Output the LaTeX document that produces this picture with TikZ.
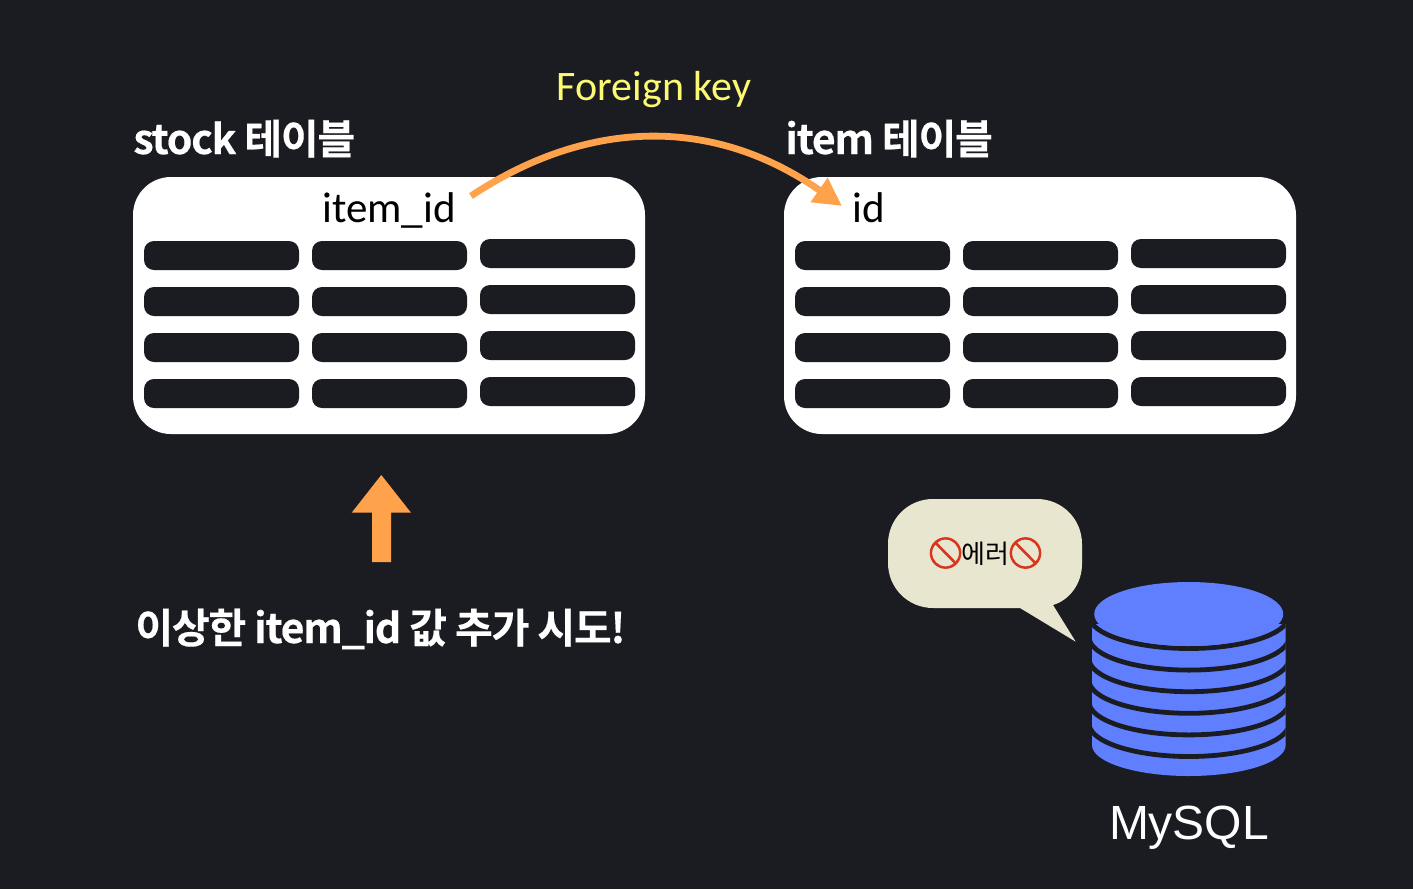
\documentclass[tikz,border=0pt]{standalone}
\usepackage{fontspec}
\usetikzlibrary{arrows.meta}
\setmainfont{Liberation Sans}
\newfontfamily\krbold[LetterSpace=-3,FakeBold=0.4]{Noto Sans CJK KR Bold}
\newfontfamily\krreg{Noto Sans CJK KR}
\newfontfamily\handfont{Carlito}
\newfontfamily\emojifont[FakeBold=4]{Noto Emoji}
\definecolor{bgdark}{HTML}{1B1C22}
\definecolor{orangeA}{HTML}{FFA24C}
\definecolor{yellowA}{HTML}{FBFA72}
\definecolor{blueA}{HTML}{5F7FFF}
\definecolor{bubbleA}{HTML}{E8E6CF}
\definecolor{banred}{HTML}{D9361F}
\tikzset{
  tablebox/.style={fill=white,rounded corners=19pt,minimum width=256pt,minimum height=128.5pt,inner sep=0pt},
  cellbar/.style={fill=bgdark,rounded corners=5pt,minimum width=77.5pt,minimum height=14.5pt,inner sep=0pt},
  heading/.style={text=white,anchor=base west,inner sep=0pt,font=\krbold\fontsize{20.5pt}{24pt}\selectfont},
  handtext/.style={text=black,inner sep=0pt,font=\handfont\fontsize{21.5pt}{26pt}\selectfont},
}
\begin{document}
\begin{tikzpicture}[x=0.5pt,y=-0.5pt]
\useasboundingbox (0,0) rectangle (1413,889);
\fill[bgdark] (0,0) rectangle (1413,889);
% headings
\node[heading] (stockhead) at (133,154) {stock 테이블};
\node[heading] (itemhead) at (785,154) {item 테이블};
% tables
\node[tablebox] (stocktable) at (389,305.5) {};
\node[tablebox] (itemtable) at (1040,305.5) {};
\foreach \ox/\tn in {0/s,651/i}{
  \foreach \r/\ry in {1/255.5,2/301.5,3/347.5,4/393.5}{
    \node[cellbar] (\tn a\r) at (221.5+\ox,\ry) {};
    \node[cellbar] (\tn b\r) at (389.5+\ox,\ry) {};
    \node[cellbar] (\tn c\r) at (557.5+\ox,\ry-2) {};
  }
}
\node[handtext] (itemid) at (389,210) {item\_id};
\node[handtext] (idlabel) at (869,208) {id};
% foreign key
\node[inner sep=0pt,text=yellowA,font=\handfont\fontsize{21pt}{26pt}\selectfont] (fk) at (654,90) {Foreign key};
\coordinate (fkstart) at (471,196);
\coordinate (fkend) at (842,206);
\draw[orangeA,line width=3.4pt,-{Triangle[length=14pt,width=14pt]}] (fkstart) .. controls (590,117) and (715,117) .. (fkend);
% up arrow
\fill[orangeA] (381.3,475) -- (411,512.7) -- (391,512.7) -- (391,562) -- (372,562) -- (372,512.7) -- (351.7,512.7) -- cycle;
\node[heading] (trylabel) at (135,643) {이상한 item\_id 값 추가 시도!};
% bubble
\fill[bubbleA] (933,499) -- (1037,499) .. controls (1062,499) and (1082,519) .. (1082,544)
  -- (1082,564) .. controls (1082,583) and (1070,600) .. (1053,605)
  -- (1075.7,641.7) -- (1020,608) -- (933,608)
  .. controls (908,608) and (888,588) .. (888,563) -- (888,544)
  .. controls (888,519) and (908,499) .. (933,499) -- cycle;
\node[inner sep=0pt,text=black,font=\krreg\fontsize{13pt}{18pt}\selectfont] (errlabel) at (985.5,553)
  {{\emojifont\color{banred}\fontsize{15pt}{18pt}\selectfont 🚫}\kern-1.5pt 에러\kern-1.5pt{\emojifont\color{banred}\fontsize{15pt}{18pt}\selectfont 🚫}};
% database
\begin{scope}
  \clip (1092,624) -- (1285.7,624) -- (1285.7,745) arc[start angle=0,end angle=180,x radius=96.85,y radius=31] -- cycle;
  \fill[blueA] (1000,600) rectangle (1300,800);
  \foreach \k in {0,...,5}{
    \draw[bgdark,line width=2.4pt] (1289,615.5+21.6*\k) arc[start angle=0,end angle=180,x radius=100,y radius=33];
  }
\end{scope}
\fill[blueA] (1188.7,614) ellipse[x radius=94.5,y radius=32];
\node[text=white,inner sep=0pt,anchor=base,font=\fontsize{24pt}{28pt}\selectfont] (mysql) at (1189,839) {MySQL};
\end{tikzpicture}
\end{document}
